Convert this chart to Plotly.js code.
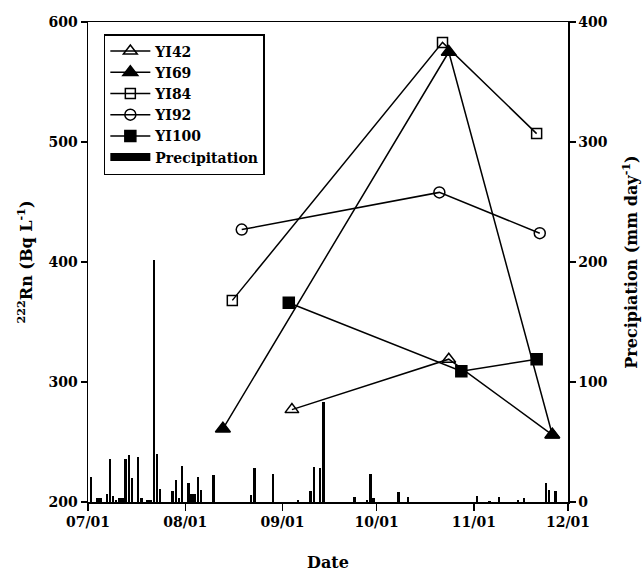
<!DOCTYPE html>
<html>
<head>
<meta charset="utf-8">
<script src="https://cdn.plot.ly/plotly-3.0.1.min.js"></script>
<style>html,body{margin:0;padding:0;background:#fff;}#chart{width:644px;height:572px;}</style>
</head>
<body>
<div id="chart"></div>
<script>
// ---- data ----
const yi42Dates = ['2012-09-04', '2012-10-24', '2012-11-26'];
const yi42Rn = [277, 319, 256];
const yi69Dates = ['2012-08-13', '2012-10-24', '2012-11-26'];
const yi69Rn = [261, 575, 256];
const yi84Dates = ['2012-08-16', '2012-10-22', '2012-11-21'];
const yi84Rn = [368, 583, 507];
const yi92Dates = ['2012-08-19', '2012-10-21', '2012-11-22'];
const yi92Rn = [427, 458, 424];
const yi100Dates = ['2012-09-03', '2012-10-28', '2012-11-21'];
const yi100Rn = [366, 309, 319];

const precipDates = [
  '2012-07-02','2012-07-04','2012-07-05','2012-07-07','2012-07-08','2012-07-09','2012-07-10',
  '2012-07-11','2012-07-12','2012-07-13','2012-07-14','2012-07-15','2012-07-17','2012-07-18',
  '2012-07-20','2012-07-21','2012-07-22','2012-07-23','2012-07-24','2012-07-28','2012-07-29',
  '2012-07-30','2012-07-31','2012-08-02','2012-08-03','2012-08-04','2012-08-05','2012-08-06',
  '2012-08-10','2012-08-22','2012-08-23','2012-08-29','2012-09-06','2012-09-10','2012-09-11',
  '2012-09-13','2012-09-14','2012-09-24','2012-09-28','2012-09-29','2012-09-30','2012-10-08',
  '2012-10-11','2012-11-02','2012-11-06','2012-11-09','2012-11-15','2012-11-17','2012-11-24',
  '2012-11-25','2012-11-27'
];
const precipMm = [
  21, 3.6, 3.6, 7, 35.5, 4.7, 2,
  3.6, 3, 36, 39, 20, 37.5, 3.6,
  1.4, 2, 202, 40, 11, 9.5, 18.6,
  3, 30, 16, 7, 7, 21, 10,
  22.5, 5.6, 28, 23.6, 1.4, 9, 29,
  28, 83, 4, 2, 23.6, 3.6, 8,
  4, 5, 1, 4, 1.4, 3.6, 16,
  10, 9
];

const xTickVals = ['2012-07-01','2012-08-01','2012-09-01','2012-10-01','2012-11-01','2012-12-01'];
const xTickText = ['07/01','08/01','09/01','10/01','11/01','12/01'];
const rnTicks = [200, 300, 400, 500, 600];
const precipTicks = [0, 100, 200, 300, 400];

// ---- chart ----
const FONT = 'DejaVu Serif, Liberation Serif, serif';
const lineStyle = {color: '#000', width: 1.5};
function series(name, x, y, symbol, size) {
  return {
    type: 'scatter', mode: 'lines+markers', name: name, x: x, y: y,
    xaxis: 'x', yaxis: 'y2',
    line: lineStyle,
    marker: {symbol: symbol, size: size, color: '#000', line: {color: '#000', width: 1.5}}
  };
}

const data = [
  series('YI42', yi42Dates, yi42Rn, 'triangle-up-open', 12),
  series('YI69', yi69Dates, yi69Rn, 'triangle-up', 13),
  series('YI84', yi84Dates, yi84Rn, 'square-open', 10),
  series('YI92', yi92Dates, yi92Rn, 'circle-open', 11),
  series('YI100', yi100Dates, yi100Rn, 'square', 11),
  {
    type: 'bar', name: 'Precipitation', x: precipDates, y: precipMm,
    xaxis: 'x', yaxis: 'y', showlegend: false,
    width: 0.8 * 86400000,
    marker: {color: '#000', line: {width: 0}}
  },
  // legend key for the precipitation bars (wide black block, as in the reference)
  {
    type: 'scatter', mode: 'lines', name: 'Precipitation', x: [null], y: [null],
    xaxis: 'x', yaxis: 'y', line: {color: '#000', width: 8}
  }
];

const tickFont = {family: FONT, size: 14, color: '#000', weight: 'bold'};
const titleFont = {family: FONT, size: 16, color: '#000', weight: 'bold'};

const layout = {
  width: 644, height: 572,
  margin: {l: 88, r: 76, t: 22, b: 70},
  paper_bgcolor: '#fff', plot_bgcolor: '#fff',
  showlegend: true,
  bargap: 0,
  legend: {
    x: 0.033, y: 0.975, xanchor: 'left', yanchor: 'top',
    bgcolor: '#fff', bordercolor: '#000', borderwidth: 1.5,
    font: {family: FONT, size: 14, color: '#000', weight: 'bold'},
    traceorder: 'normal', itemwidth: 40, tracegroupgap: 0
  },
  xaxis: {
    type: 'date', range: ['2012-07-01', '2012-12-01'],
    tickmode: 'array', tickvals: xTickVals, ticktext: xTickText,
    ticks: 'outside', ticklen: 7, tickwidth: 1.5, tickcolor: '#000',
    showline: true, linecolor: '#000', linewidth: 1.5, mirror: true,
    showgrid: false, zeroline: false,
    tickfont: tickFont,
    title: {text: 'Date', font: titleFont, standoff: 29}
  },
  yaxis: {
    range: [0, 400], side: 'right',
    tickmode: 'array', tickvals: precipTicks,
    ticks: 'outside', ticklen: 6, tickwidth: 1.5, tickcolor: '#000',
    showline: true, linecolor: '#000', linewidth: 1.5,
    showgrid: false, zeroline: false,
    tickfont: tickFont,
    title: {text: 'Precipiation (mm day<sup>-1</sup>)', font: titleFont, standoff: 19}
  },
  yaxis2: {
    range: [200, 600], side: 'left', overlaying: 'y',
    tickmode: 'array', tickvals: rnTicks,
    ticks: 'outside', ticklen: 6, tickwidth: 1.5, tickcolor: '#000',
    showline: true, linecolor: '#000', linewidth: 1.5,
    showgrid: false, zeroline: false,
    tickfont: tickFont,
    title: {text: '<sup>222</sup>Rn (Bq L<sup>-1</sup>)', font: titleFont, standoff: 12}
  }
};

Plotly.newPlot('chart', data, layout, {displayModeBar: false, staticPlot: true});
</script>
</body>
</html>
